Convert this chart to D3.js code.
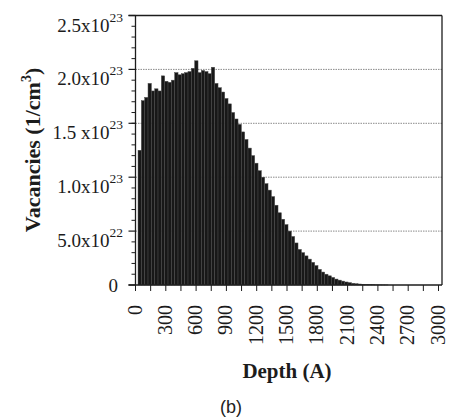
<!DOCTYPE html>
<html>
<head>
<meta charset="utf-8">
<script src="https://cdn.jsdelivr.net/npm/d3@7"></script>
<style>
  html, body { margin: 0; padding: 0; background: #fff; }
  svg { display: block; }
</style>
</head>
<body>
<div id="chart"></div>
<script>
// Profil de lacunes — histogramme en profondeur

// Bords gauches des classes de profondeur (Å)
const depthBins = [
  25, 58, 91, 124, 157, 190, 223, 256, 289, 322,
  355, 388, 421, 454, 487, 520, 553, 586, 619, 652,
  685, 718, 751, 784, 817, 850, 883, 916, 949, 982,
  1015, 1048, 1081, 1114, 1147, 1180, 1213, 1246, 1279, 1312,
  1345, 1378, 1411, 1444, 1477, 1510, 1543, 1576, 1609, 1642,
  1675, 1708, 1741, 1774, 1807, 1840, 1873, 1906, 1939, 1972,
  2005, 2038, 2071, 2104, 2137, 2170, 2203, 2236, 2269, 2302,
  2335, 2368, 2401, 2434, 2467
];
const BIN_W = 33;

// Lacunes (1e23 /cm3)
const vacancies = [
  1.25, 1.71, 1.74, 1.87, 1.80, 1.82, 1.80, 1.94, 1.89, 1.88,
  1.90, 1.97, 1.95, 1.96, 1.97, 1.98, 2.01, 2.08, 1.97, 1.99,
  1.98, 1.96, 2.02, 1.87, 1.83, 1.79, 1.73, 1.68, 1.60, 1.54,
  1.49, 1.42, 1.35, 1.27, 1.20, 1.13, 1.06, 1.00, 0.94, 0.88,
  0.82, 0.74, 0.67, 0.61, 0.56, 0.50, 0.45, 0.39, 0.33, 0.30,
  0.27, 0.24, 0.21, 0.18, 0.145, 0.12, 0.10, 0.085, 0.07, 0.055,
  0.045, 0.036, 0.028, 0.022, 0.016, 0.012, 0.009, 0.007, 0.005, 0.004,
  0.003, 0.002, 0.0015, 0.001, 0.0008
].map(v => v * 1e23);

// Graduations
const yMajor = [0, 0.5e23, 1.0e23, 1.5e23, 2.0e23, 2.5e23];
const yLabels = [
  { m: '0', e: '' },
  { m: '5.0x10', e: '22' },
  { m: '1.0x10', e: '23' },
  { m: '1.5 x10', e: '23' },
  { m: '2.0x10', e: '23' },
  { m: '2.5x10', e: '23' }
];
const xLabelTicks = [0, 300, 600, 900, 1200, 1500, 1800, 2100, 2400, 2700, 3000];

const W = 449, H = 420;
const INK = '#1c1c1c';
const SERIF = '"Liberation Serif", "Times New Roman", serif';

const svg = d3.select('#chart').append('svg')
  .attr('width', W).attr('height', H)
  .attr('viewBox', `0 0 ${W} ${H}`);

const x = d3.scaleLinear().domain([0, 3000]).range([135.5, 438.5]);
const y = d3.scaleLinear().domain([0, 2.5e23]).range([285, 15.5]);
const xRight = 442;

// Grille pointillée
svg.append('g').selectAll('line')
  .data(yMajor.slice(1, -1))
  .join('line')
  .attr('x1', x(0)).attr('x2', xRight)
  .attr('y1', d => y(d)).attr('y2', d => y(d))
  .attr('stroke', '#8a8a8a')
  .attr('stroke-width', 1)
  .attr('stroke-dasharray', '1.5,1');

// Barres
svg.append('g').selectAll('rect')
  .data(vacancies)
  .join('rect')
  .attr('x', (d, i) => x(depthBins[i]))
  .attr('width', (d, i) => x(depthBins[i] + BIN_W) - x(depthBins[i]))
  .attr('y', d => y(d))
  .attr('height', d => y(0) - y(d))
  .attr('fill', '#181818')
  .attr('stroke', '#4a4a4a')
  .attr('stroke-width', 0.5);

// Cadre : haut, droite, gauche, bas
const frame = svg.append('g').attr('stroke', INK).attr('stroke-width', 1.3);
frame.append('line').attr('x1', x(0) - 7).attr('x2', xRight).attr('y1', y(2.5e23)).attr('y2', y(2.5e23));
frame.append('line').attr('x1', xRight).attr('x2', xRight).attr('y1', y(2.5e23)).attr('y2', y(0));
frame.append('line').attr('x1', x(0)).attr('x2', x(0)).attr('y1', y(2.5e23)).attr('y2', y(0));
frame.append('line').attr('x1', x(0) - 7).attr('x2', xRight).attr('y1', y(0)).attr('y2', y(0));

// Axe Y : graduations mineures tous les 1e22
const yMinor = d3.range(0, 26).map(i => i * 1e22).filter(v => v % 5e22 !== 0);
svg.append('g').selectAll('line')
  .data(yMinor)
  .join('line')
  .attr('x1', x(0) - 4).attr('x2', x(0))
  .attr('y1', d => y(d)).attr('y2', d => y(d))
  .attr('stroke', INK).attr('stroke-width', 1);
svg.append('g').selectAll('line')
  .data(yMajor)
  .join('line')
  .attr('x1', x(0) - 7).attr('x2', x(0))
  .attr('y1', d => y(d)).attr('y2', d => y(d))
  .attr('stroke', INK).attr('stroke-width', 1.2);

// Étiquettes Y avec exposant
const yl = svg.append('g')
  .attr('font-family', SERIF)
  .attr('font-size', 19)
  .attr('fill', INK)
  .attr('text-anchor', 'end');
yMajor.forEach((v, i) => {
  const lab = yLabels[i];
  if (!lab.e) {
    yl.append('text').attr('x', 118).attr('y', y(v) + 7).text(lab.m);
    return;
  }
  const t = yl.append('text').attr('x', 123).attr('y', y(v) + 16);
  t.append('tspan').text(lab.m);
  t.append('tspan').attr('font-size', 13.5).attr('dy', -10).text(lab.e);
});

// Axe X : graduations tous les 150 Å
const xTicks = d3.range(0, 21).map(i => i * 150);
svg.append('g').selectAll('line')
  .data(xTicks)
  .join('line')
  .attr('x1', d => x(d)).attr('x2', d => x(d))
  .attr('y1', y(0)).attr('y2', y(0) + 6)
  .attr('stroke', INK).attr('stroke-width', 1);

svg.append('g')
  .attr('font-family', SERIF)
  .attr('font-size', 20)
  .attr('fill', INK)
  .attr('text-anchor', 'end')
  .selectAll('text')
  .data(xLabelTicks)
  .join('text')
  .attr('transform', d => `translate(${x(d)},305) rotate(-90)`)
  .attr('dy', '0.3em')
  .text(d => d);

// Titres d'axes
svg.append('text')
  .attr('x', 287).attr('y', 378)
  .attr('text-anchor', 'middle')
  .attr('font-family', SERIF)
  .attr('font-size', 21)
  .attr('font-weight', 700)
  .attr('fill', INK)
  .text('Depth (A)');

const yt = svg.append('text')
  .attr('transform', 'translate(40,150) rotate(-90)')
  .attr('text-anchor', 'middle')
  .attr('font-family', SERIF)
  .attr('font-size', 22)
  .attr('font-weight', 700)
  .attr('fill', INK);
yt.append('tspan').text('Vacancies (1/cm');
yt.append('tspan').attr('font-size', 14).attr('dy', -9).text('3');
yt.append('tspan').attr('dy', 9).text(')');

// Légende de panneau
svg.append('text')
  .attr('x', 231).attr('y', 413)
  .attr('text-anchor', 'middle')
  .attr('font-family', '"Liberation Sans", Arial, sans-serif')
  .attr('font-size', 18)
  .attr('fill', '#222')
  .text('(b)');
</script>
</body>
</html>
